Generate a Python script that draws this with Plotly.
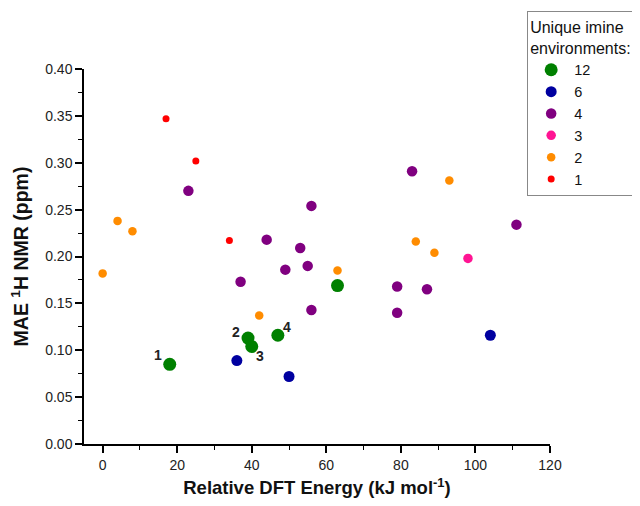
import plotly.graph_objects as go

# Data
green_x = [18, 39, 40, 47, 63]
green_y = [0.085, 0.113, 0.104, 0.116, 0.169]
blue_x = [36, 50, 104]
blue_y = [0.089, 0.072, 0.116]
purple_x = [23, 37, 44, 49, 53, 55, 56, 56, 79, 79, 83, 87, 111]
purple_y = [0.270, 0.173, 0.218, 0.186, 0.209, 0.190, 0.254, 0.143, 0.168, 0.140, 0.291, 0.165, 0.234]
magenta_x = [98]
magenta_y = [0.198]
orange_x = [0, 4, 8, 42, 63, 84, 89, 93]
orange_y = [0.182, 0.238, 0.227, 0.137, 0.185, 0.216, 0.204, 0.281]
red_x = [17, 25, 34]
red_y = [0.347, 0.302, 0.217]

label_text = ["1", "2", "3", "4"]
label_x = [18, 39, 40, 47]
label_y = [0.085, 0.113, 0.104, 0.116]

series = [
    ("12", green_x, green_y, "#008000", 13),
    ("6", blue_x, blue_y, "#0000A0", 11),
    ("4", purple_x, purple_y, "#800080", 10.5),
    ("3", magenta_x, magenta_y, "#FF1493", 9.5),
    ("2", orange_x, orange_y, "#FF8C00", 8.5),
    ("1", red_x, red_y, "#FF0000", 7),
]

fig = go.Figure()
for name, xs, ys, col, sz in series:
    fig.add_trace(go.Scatter(x=xs, y=ys, mode="markers", name=name,
                             marker=dict(color=col, size=sz, line=dict(width=0))))

# pixel offsets (dx right, dy up) of the point labels
offsets = [(-12, 9), (-12, 6), (8, -9), (9, 8)]
for t, x, y, (dx, dy) in zip(label_text, label_x, label_y, offsets):
    fig.add_annotation(x=x, y=y, text="<b>%s</b>" % t, showarrow=False,
                       xshift=dx, yshift=dy,
                       font=dict(family="Liberation Sans, Arial", size=14, color="#222"))

fig.update_layout(
    width=640, height=506,
    paper_bgcolor="white", plot_bgcolor="white",
    margin=dict(l=76, r=98, t=61, b=70, autoexpand=False),
    font=dict(family="Liberation Sans, Arial", size=14, color="#222"),
    legend=dict(
        title=dict(text="Unique imine<br>environments:", font=dict(size=16, color="#111")),
        x=0.951, y=1.154, xanchor="left", yanchor="top",
        bordercolor="#888", borderwidth=1, bgcolor="white",
        font=dict(size=14.5, color="#111"), itemsizing="trace", tracegroupgap=0,
        itemwidth=36,
    ),
)
fig.update_xaxes(
    range=[-5, 120], tickvals=[0, 20, 40, 60, 80, 100, 120], automargin=False,
    showgrid=False, zeroline=False, showline=True, linecolor="black", linewidth=1.5,
    ticks="outside", ticklen=7, tickwidth=1.5, tickcolor="black",
    minor=dict(dtick=10, tick0=0, ticks="outside", ticklen=4, tickwidth=1.2, tickcolor="black"),
    title=dict(text="<b>Relative DFT Energy (kJ mol<sup>-1</sup>)</b>",
               font=dict(size=18.5, color="#111"), standoff=10),
)
fig.update_yaxes(
    range=[0, 0.40], tickvals=[0, 0.05, 0.10, 0.15, 0.20, 0.25, 0.30, 0.35, 0.40], tickformat=".2f",
    automargin=False,
    showgrid=False, zeroline=False, showline=True, linecolor="black", linewidth=1.5,
    ticks="outside", ticklen=7, tickwidth=1.5, tickcolor="black",
    minor=dict(dtick=0.025, tick0=0, ticks="outside", ticklen=4, tickwidth=1.2, tickcolor="black"),
    title=dict(text="<b>MAE <sup>1</sup>H NMR (ppm)</b>",
               font=dict(size=19.5, color="#111"), standoff=13),
)

fig.write_html("out.html")
